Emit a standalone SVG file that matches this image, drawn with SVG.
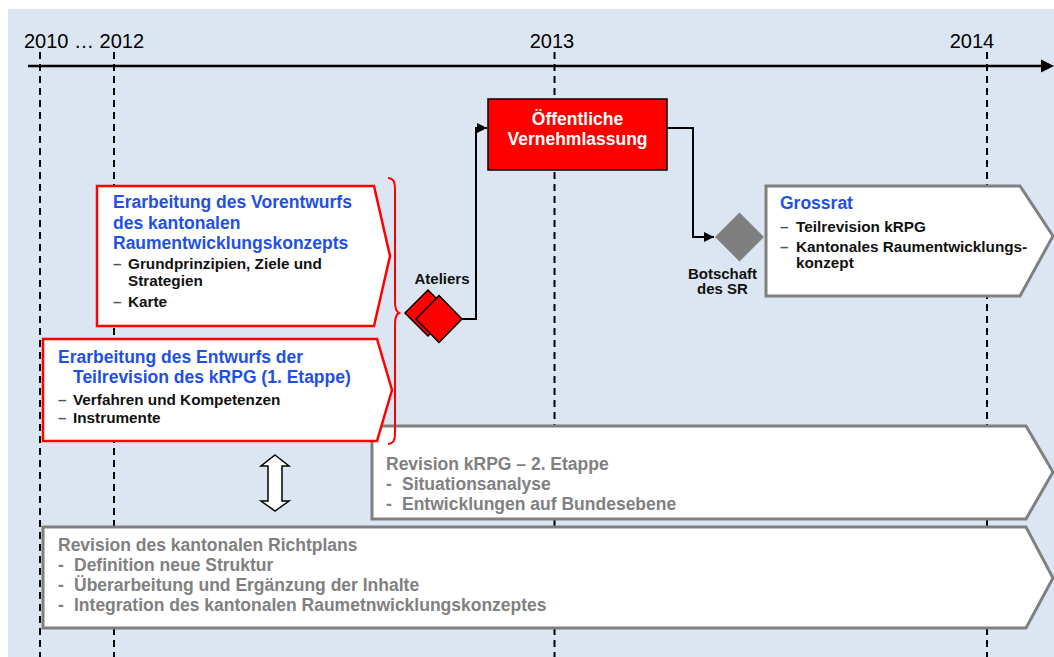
<svg xmlns="http://www.w3.org/2000/svg" width="1054" height="657" viewBox="0 0 1054 657">
<style>
text{font-family:"Liberation Sans",Arial,sans-serif}
.yr{font-size:20px;fill:#000}
.ttl{font-size:17.5px;font-weight:bold;fill:#1f50e6}
.blt{font-size:15.3px;font-weight:bold;fill:#111}
.dsh{font-size:15.3px;font-weight:bold;fill:#555}
.gry{font-size:17.5px;font-weight:bold;fill:#808080}
.lbl{font-size:15px;font-weight:bold;fill:#111}
.wht{font-size:17.5px;font-weight:bold;fill:#fff}
.redbox{fill:#fff;stroke:#ff0000;stroke-width:2.5}
.grybox{fill:#fff;stroke:#808080;stroke-width:3}
.dash{stroke:#000;stroke-width:2;stroke-dasharray:7 5;fill:none}
.con{stroke:#000;stroke-width:2;fill:none}
</style>
<defs>
<marker id="ah" viewBox="0 0 10 10" refX="10" refY="5" markerWidth="5" markerHeight="5" orient="auto" markerUnits="strokeWidth">
<path d="M0,0 L10,5 L0,10 z" fill="#000"/>
</marker>
</defs>
<rect x="0" y="0" width="1054" height="657" fill="#fff"/>
<rect x="8" y="9" width="1046" height="648" fill="#dce6f2"/>

<g id="timeline">
<line x1="28" y1="66" x2="1043" y2="66" stroke="#000" stroke-width="2.5"/>
<path d="M1054,66 L1041,59.5 L1041,72.5 z" fill="#000"/>
<text class="yr" x="84" y="48" text-anchor="middle">2010 … 2012</text>
<text class="yr" x="552" y="48" text-anchor="middle">2013</text>
<text class="yr" x="972" y="48" text-anchor="middle">2014</text>
<line class="dash" x1="40" y1="52" x2="40" y2="657"/>
<line class="dash" x1="114" y1="52" x2="114" y2="657"/>
<line class="dash" x1="554.5" y1="52" x2="554.5" y2="657"/>
<line class="dash" x1="987" y1="52" x2="987" y2="657"/>
</g>

<g id="richtplan">
<polygon class="grybox" points="43,527 1026,527 1053,578 1026,628 43,628"/>
<text class="gry" x="58" y="551">Revision des kantonalen Richtplans</text>
<text class="gry" x="58" y="571">-</text><text class="gry" x="74" y="571">Definition neue Struktur</text>
<text class="gry" x="58" y="591">-</text><text class="gry" x="74" y="591">Überarbeitung und Ergänzung der Inhalte</text>
<text class="gry" x="58" y="611">-</text><text class="gry" x="74" y="611">Integration des kantonalen Raumetnwicklungskonzeptes</text>
</g>

<g id="etappe2">
<polygon class="grybox" points="372,426 1026,426 1053,472 1026,519 372,519"/>
<text class="gry" x="386" y="470">Revision kRPG – 2. Etappe</text>
<text class="gry" x="386" y="490">-</text><text class="gry" x="402" y="490">Situationsanalyse</text>
<text class="gry" x="386" y="510">-</text><text class="gry" x="402" y="510">Entwicklungen auf Bundesebene</text>
</g>

<g id="vorentwurf">
<polygon class="redbox" points="97,186 374,186 390,256 374,326 97,326"/>
<text class="ttl" x="113" y="208">Erarbeitung des Vorentwurfs</text>
<text class="ttl" x="113" y="229">des kantonalen</text>
<text class="ttl" x="113" y="249">Raumentwicklungskonzepts</text>
<text class="dsh" x="113" y="269">–</text><text class="blt" x="128" y="269">Grundprinzipien, Ziele und</text>
<text class="blt" x="128" y="286">Strategien</text>
<text class="dsh" x="113" y="307">–</text><text class="blt" x="128" y="307">Karte</text>
</g>

<g id="entwurf">
<polygon class="redbox" points="43,339 377,339 392,390 377,441 43,441"/>
<text class="ttl" x="58" y="363">Erarbeitung des Entwurfs der</text>
<text class="ttl" x="73" y="383">Teilrevision des kRPG (1. Etappe)</text>
<text class="dsh" x="58" y="405">–</text><text class="blt" x="73" y="405">Verfahren und Kompetenzen</text>
<text class="dsh" x="58" y="423">–</text><text class="blt" x="73" y="423">Instrumente</text>
</g>

<g id="brace">
<path d="M388,178 Q395,178 395,188 L395,302 Q395,311 399,313 Q395,315 395,324 L395,434 Q395,444 388,444" fill="none" stroke="#ff0000" stroke-width="2"/>
</g>

<g id="ateliers">
<polygon points="405,313 428,290 451,313 428,336" fill="#ff0000" stroke="#000" stroke-width="1.5"/>
<polygon points="416,319 439,295.5 462,319 439,342.5" fill="#ff0000" stroke="#000" stroke-width="1.5"/>
<text class="lbl" x="442" y="284" text-anchor="middle">Ateliers</text>
</g>

<g id="vernehmlassung">
<rect x="488" y="99" width="179" height="71" fill="#ff0000" stroke="#000" stroke-width="1.5"/>
<text class="wht" x="577.5" y="125" text-anchor="middle">Öffentliche</text>
<text class="wht" x="577.5" y="145" text-anchor="middle">Vernehmlassung</text>
</g>

<g id="botschaft">
<polygon points="715,237 739.5,212.5 764,237 739.5,261.5" fill="#7f7f7f"/>
<text class="lbl" x="722.5" y="279" text-anchor="middle">Botschaft</text>
<text class="lbl" x="722.5" y="294" text-anchor="middle">des SR</text>
</g>

<g id="grossrat">
<polygon class="grybox" points="766,186 1020,186 1053,236 1020,296 766,296"/>
<text class="ttl" x="780" y="209">Grossrat</text>
<text class="dsh" x="780" y="232">–</text><text class="blt" x="796" y="232">Teilrevision kRPG</text>
<text class="dsh" x="780" y="252">–</text><text class="blt" x="796" y="252">Kantonales Raumentwicklungs-</text>
<text class="blt" x="796" y="268">konzept</text>
</g>

<g id="doublearrow">
<polygon points="275,455 289,466 282,466 282,501 289,501 275,511 261,501 268,501 268,466 261,466" fill="#fff" stroke="#000" stroke-width="1.5"/>
</g>

<g id="connectors">
<path class="con" d="M462,319 H476 V128 H487" marker-end="url(#ah)"/>
<path class="con" d="M667,128 H693 V237 H714" marker-end="url(#ah)"/>
</g>
</svg>
